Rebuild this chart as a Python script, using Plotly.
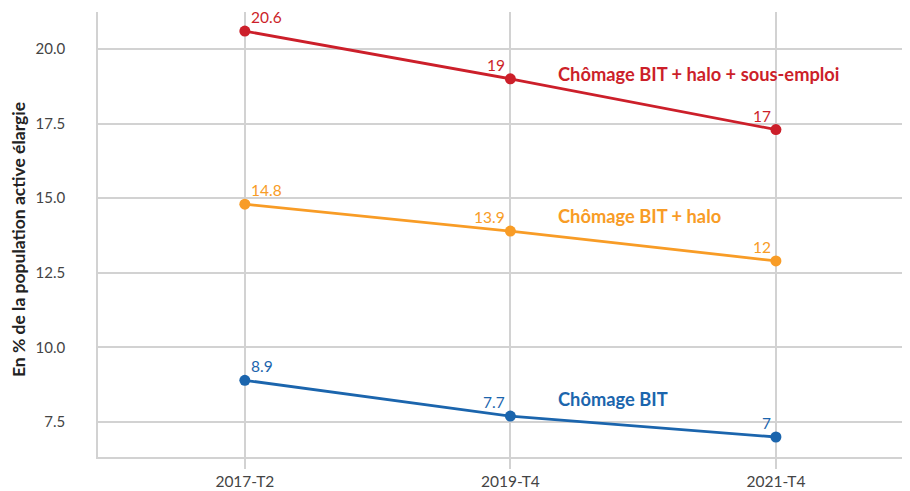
import plotly.graph_objects as go

categories = ["2017-T2", "2019-T4", "2021-T4"]
series_names = ["Chômage BIT + halo + sous-emploi", "Chômage BIT + halo", "Chômage BIT"]
values_sous_emploi = [20.6, 19.0, 17.3]
values_halo = [14.8, 13.9, 12.9]
values_bit = [8.9, 7.7, 7.0]
labels_sous_emploi = ["20.6", "19", "17"]
labels_halo = ["14.8", "13.9", "12"]
labels_bit = ["8.9", "7.7", "7"]
y_tick_vals = [7.5, 10.0, 12.5, 15.0, 17.5, 20.0]
y_tick_text = ["7.5", "10.0", "12.5", "15.0", "17.5", "20.0"]

colors = ["#cc1f2a", "#f89c26", "#1b65ad"]
name_label_y = [19.16, 14.40, 8.27]
FONT = "Lato"
GRID = "#d2d2d2"

# the page body has an 8px default margin, so the figure is sized/offset for it
OFF = 8
W, H = 910 - OFF, 491 - OFF
L, T, B = 98 - OFF, 12 - OFF, H - (457 - OFF)
PW = W - L
PH = H - T - B

series = [
    (values_sous_emploi, labels_sous_emploi),
    (values_halo, labels_halo),
    (values_bit, labels_bit),
]

fig = go.Figure()
annotations = []
for (vals, labs), name, col, ny in zip(series, series_names, colors, name_label_y):
    fig.add_trace(go.Scatter(
        x=categories, y=vals, mode="lines+markers", name=name,
        line=dict(color=col, width=2.8),
        marker=dict(color=col, size=11),
        showlegend=False, hoverinfo="x+y",
    ))
    for i, (xv, yv, lab) in enumerate(zip(categories, vals, labs)):
        first = i == 0
        annotations.append(dict(
            x=xv, y=yv, xref="x", yref="y", text=lab, showarrow=False,
            xanchor="left" if first else "right", yanchor="bottom",
            xshift=4 if first else -3, yshift=3,
            font=dict(family=FONT, size=15.5, color=col),
        ))
    annotations.append(dict(
        x=(556 - 98) / PW, y=ny, xref="paper", yref="y", text="<b>" + name + "</b>",
        showarrow=False, xanchor="left", yanchor="middle",
        font=dict(family=FONT, size=18.3, color=col),
    ))

annotations.append(dict(
    x=(19 - 98) / PW, y=(457 - 240) / PH, xref="paper", yref="paper",
    text="<b>En % de la population active élargie</b>", textangle=-90,
    showarrow=False, xanchor="center", yanchor="middle",
    font=dict(family=FONT, size=17.5, color="#222222"),
))

fig.update_layout(
    width=W, height=H,
    margin=dict(l=L, r=0, t=T, b=B, pad=0),
    paper_bgcolor="white", plot_bgcolor="white",
    font=dict(family=FONT, color="#444444"),
    annotations=annotations,
    xaxis=dict(
        type="category", range=[-0.553, 2.505], automargin=False,
        showgrid=True, gridcolor=GRID, gridwidth=2,
        showline=True, linecolor=GRID, linewidth=1.5,
        ticks="outside", ticklen=10, tickwidth=2, tickcolor=GRID,
        ticklabelstandoff=0,
        tickfont=dict(family=FONT, size=15.5, color="#444444"),
        zeroline=False,
    ),
    yaxis=dict(
        range=[6.33, 21.24], automargin=False,
        tickvals=y_tick_vals, ticktext=y_tick_text,
        showgrid=True, gridcolor=GRID, gridwidth=1.5,
        showline=True, linecolor=GRID, linewidth=1.5,
        ticks="", ticklabelstandoff=28,
        tickfont=dict(family=FONT, size=15, color="#444444"),
        zeroline=False,
    ),
)

fig.write_html("out.html")
